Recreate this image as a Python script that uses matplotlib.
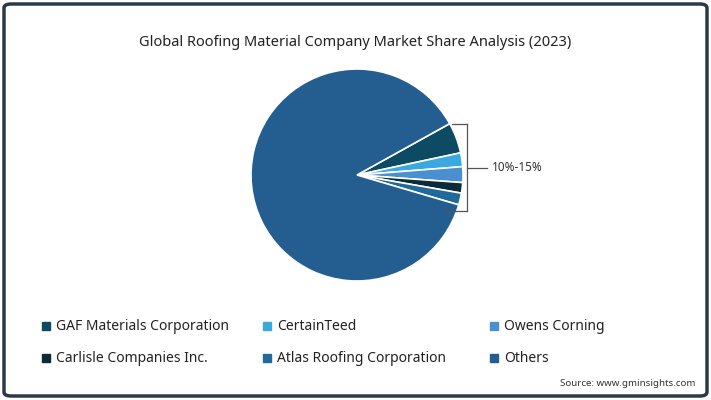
import matplotlib
matplotlib.use("Agg")
import matplotlib.pyplot as plt
from matplotlib.patches import FancyBboxPatch, Rectangle

categories = ["GAF Materials Corporation", "CertainTeed", "Owens Corning",
              "Carlisle Companies Inc.", "Atlas Roofing Corporation", "Others"]
values = [4.7, 2.1, 2.4, 1.6, 1.8, 87.4]
colors = ["#0d4a63", "#3aa9e0", "#4a90d0", "#0b2a3a", "#1f6a9a", "#245d8f"]

W, H = 711, 400
fig = plt.figure(figsize=(W/100, H/100), dpi=100)
fig.patches.append(FancyBboxPatch((4/W, 4/H), 1-8/W, 1-8/H, boxstyle="round,pad=0,rounding_size=0.01",
                                  transform=fig.transFigure, fill=False, ec="#2b3a48", lw=2.5))
fig.text(0.5, 1-42/H, "Global Roofing Material Company Market Share Analysis (2023)",
         ha="center", va="center", fontsize=10.5, family="Noto Sans", color="#222")

cx, cy, r = 357, 175, 106
ax = fig.add_axes([(cx-r)/W, 1-(cy+r)/H, 2*r/W, 2*r/H])
ax.pie(values, colors=colors, startangle=29, counterclock=False,
       wedgeprops=dict(edgecolor="white", linewidth=1.2))
ax.set_xlim(-1, 1); ax.set_ylim(-1, 1)
ax.set_aspect("equal")
ax.axis("off")

# bracket
bc = "#555"
bx = 467
fig.add_artist(plt.Line2D([452/W, bx/W], [1-124/H, 1-124/H], color=bc, lw=0.9))
fig.add_artist(plt.Line2D([bx/W, bx/W], [1-124/H, 1-211/H], color=bc, lw=0.9))
fig.add_artist(plt.Line2D([446/W, bx/W], [1-211/H, 1-211/H], color=bc, lw=0.9))
fig.add_artist(plt.Line2D([bx/W, 487/W], [1-168/H, 1-168/H], color=bc, lw=0.9))
fig.text(492/W, 1-168/H, "10%-15%", ha="left", va="center", fontsize=8.5, family="Noto Sans", color="#333")

xs = [42, 263, 490]
ys = [326, 358]
for i, (c, col) in enumerate(zip(categories, colors)):
    x = xs[i % 3]; y = ys[i // 3]
    fig.patches.append(Rectangle((x/W, (1-(y+4)/H)), 8/W, 8/H, transform=fig.transFigure, color=col))
    fig.text((x+14)/W, 1-y/H, c, ha="left", va="center", fontsize=10, family="Noto Sans", color="#222")

fig.text(1-16/W, 1-384/H, "Source: www.gminsights.com", ha="right", va="center",
         fontsize=7, family="Noto Sans", color="#333")
fig.savefig("out.png", dpi=100)
